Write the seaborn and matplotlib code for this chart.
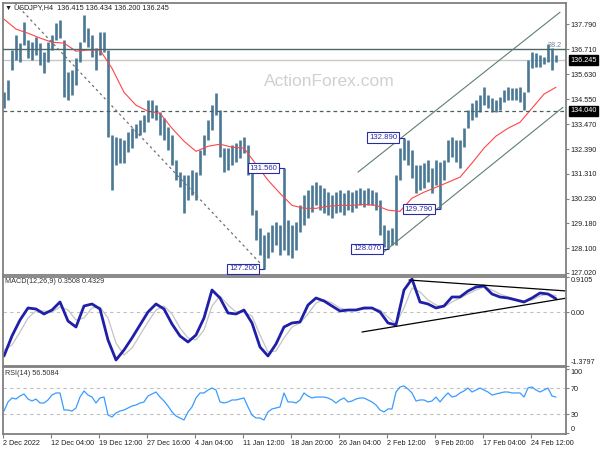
import matplotlib
matplotlib.use('Agg')
import matplotlib.pyplot as plt
import matplotlib.transforms as mtransforms
import numpy as np
import pandas as pd
import seaborn as sns

# USDJPY H4 - one entry per 4 px column of the chart (about 3 real bars each)
bar_high = [134.85, 135.37, 136.68, 137.33, 136.98, 137.89, 137.11, 137.02, 137.24, 136.98,
            136.59, 137.02, 137.33, 137.85, 137.98, 137.11, 135.72, 135.81, 136.33, 137.02,
            138.19, 137.63, 137.33, 136.76, 137.46, 137.46, 136.68, 132.99, 132.90, 132.86,
            132.77, 133.12, 133.29, 133.47, 133.64, 133.86, 134.51, 134.51, 134.29, 133.99,
            133.73, 133.34, 132.99, 131.91, 131.39, 131.26, 131.26, 131.47, 131.39, 132.34,
            132.99, 133.64, 134.29, 134.81, 134.07, 132.43, 132.43, 132.56, 132.64, 132.77,
            132.90, 132.56, 131.47, 129.74, 128.96, 128.65, 128.78, 129.09, 129.22, 129.09,
            131.56, 129.30, 129.09, 129.22, 129.95, 130.39, 130.60, 130.82, 130.95, 130.82,
            130.69, 130.52, 130.39, 130.52, 130.60, 130.47, 130.60, 130.52, 130.60, 130.69,
            130.60, 130.69, 130.60, 130.52, 130.17, 129.09, 128.87, 128.96, 131.26, 132.43,
            132.89, 132.77, 132.34, 131.69, 131.69, 131.78, 131.91, 131.56, 131.91, 131.82,
            131.91, 132.77, 132.90, 132.77, 132.77, 133.29, 134.07, 134.38, 134.51, 134.72,
            135.07, 134.72, 134.59, 134.51, 134.64, 134.94, 135.07, 135.03, 135.03, 135.07,
            134.85, 136.24, 136.59, 136.55, 136.46, 136.37, 136.94, 136.76, 136.46]
bar_low = [134.16, 134.51, 135.81, 136.24, 136.16, 136.89, 136.33, 136.24, 136.46, 136.03,
           135.68, 136.16, 136.68, 137.11, 137.20, 134.64, 134.51, 134.72, 135.16, 136.16,
           137.02, 136.81, 136.37, 135.81, 136.46, 136.59, 132.90, 130.60, 131.69, 131.78,
           131.78, 132.25, 132.43, 132.86, 132.99, 133.12, 133.55, 133.73, 133.64, 132.99,
           132.77, 132.34, 131.69, 131.04, 130.73, 129.61, 130.17, 130.39, 130.17, 131.26,
           132.12, 132.77, 133.21, 133.86, 132.04, 131.39, 131.47, 131.69, 131.82, 131.99,
           132.21, 131.26, 129.52, 128.44, 127.79, 127.20, 127.66, 127.92, 128.22, 127.79,
           128.00, 127.79, 127.66, 128.00, 128.78, 129.09, 129.39, 129.65, 129.95, 129.74,
           129.61, 129.52, 129.39, 129.61, 129.65, 129.52, 129.74, 129.65, 129.82, 129.95,
           129.87, 129.95, 129.95, 129.74, 128.65, 128.15, 128.07, 128.22, 128.22, 131.04,
           131.91, 131.69, 131.13, 130.47, 130.60, 130.69, 130.95, 130.47, 130.82, 129.79,
           131.04, 131.82, 132.04, 131.82, 131.56, 132.47, 133.29, 133.64, 133.77, 133.99,
           134.29, 134.16, 133.99, 133.99, 134.07, 134.42, 134.51, 134.51, 134.51, 134.42,
           134.07, 134.85, 135.89, 135.94, 135.94, 136.07, 136.16, 135.81, 136.16]

# moving average, every 3rd column
ma_val = [138.02, 137.59, 137.41, 137.20, 137.02, 136.98, 136.63, 136.68, 136.68, 135.89,
          134.85, 134.29, 134.03, 133.94, 133.29, 132.73, 132.29, 132.51, 132.60, 132.47,
          132.43, 131.73, 131.04, 130.47, 129.95, 129.82, 129.82, 129.91, 129.95, 129.95,
          129.99, 129.95, 129.74, 129.69, 130.26, 130.52, 130.73, 130.95, 131.17, 131.78,
          132.43, 132.95, 133.29, 133.55, 134.16, 134.77, 135.07]

# MACD(12,26,9), every 2nd column
macd_main = [-1.122, -0.607, -0.196, 0.113, 0.087, -0.041, 0.061, 0.267, -0.222, -0.376,
             0.164, 0.216, 0.087, -0.710, -1.225, -0.968, -0.659, -0.324, 0.010, 0.216,
             0.087, -0.299, -0.607, -0.762, -0.582, -0.144, 0.576, 0.370, -0.016, -0.041,
             0.061, -0.273, -0.891, -1.122, -0.813, -0.376, -0.273, -0.247, 0.190, 0.370,
             0.293, 0.164, 0.036, 0.061, 0.061, 0.113, 0.113, 0.010, -0.273, -0.324,
             0.576, 0.859, 0.267, 0.216, 0.113, 0.164, 0.396, 0.396, 0.550, 0.653,
             0.679, 0.473, 0.396, 0.370, 0.319, 0.267, 0.370, 0.499, 0.473, 0.351]
macd_signal = [-0.968, -0.839, -0.505, -0.144, 0.036, 0.036, 0.010, 0.139, 0.061, -0.196,
               -0.144, 0.113, 0.139, -0.144, -0.788, -1.096, -0.916, -0.582, -0.247, 0.061,
               0.164, -0.041, -0.402, -0.659, -0.710, -0.453, 0.164, 0.422, 0.190, 0.010,
               0.010, -0.093, -0.582, -1.019, -0.993, -0.659, -0.376, -0.273, -0.041, 0.242,
               0.319, 0.242, 0.113, 0.061, 0.061, 0.087, 0.113, 0.061, -0.119, -0.299,
               0.113, 0.628, 0.525, 0.319, 0.190, 0.139, 0.267, 0.370, 0.473, 0.576,
               0.653, 0.576, 0.473, 0.396, 0.344, 0.293, 0.319, 0.422, 0.473, 0.433]

# RSI(14), one per column
rsi_val = [34.7, 48.8, 55.0, 53.4, 58.1, 61.2, 53.4, 50.3, 53.4, 47.2,
           47.2, 51.9, 59.6, 62.8, 62.8, 36.3, 36.3, 34.7, 39.4, 56.5,
           65.9, 59.6, 56.5, 47.2, 55.0, 56.5, 28.5, 25.4, 31.6, 34.7,
           36.3, 39.4, 42.5, 44.1, 47.2, 48.8, 58.1, 61.2, 64.3, 56.5,
           50.3, 42.5, 33.2, 27.0, 23.9, 20.7, 33.2, 41.0, 55.0, 62.8,
           62.8, 67.4, 70.5, 67.4, 48.8, 47.2, 48.8, 51.9, 51.9, 53.4,
           55.0, 41.0, 28.5, 23.9, 23.9, 20.7, 33.2, 37.9, 39.4, 41.0,
           62.8, 48.8, 48.8, 47.2, 51.9, 62.8, 58.1, 55.0, 56.5, 56.5,
           56.5, 55.0, 51.9, 47.2, 51.9, 55.0, 48.8, 50.3, 53.4, 55.0,
           55.0, 51.9, 48.8, 44.1, 36.3, 33.2, 37.9, 37.9, 64.3, 72.1,
           73.7, 69.0, 62.8, 50.3, 51.9, 51.9, 48.8, 50.3, 56.5, 48.8,
           56.5, 62.8, 56.5, 58.1, 62.8, 65.9, 70.5, 64.3, 67.4, 70.5,
           67.4, 64.3, 59.6, 61.2, 62.8, 64.3, 64.3, 62.8, 62.8, 62.8,
           56.5, 70.5, 72.1, 67.4, 64.3, 67.4, 70.5, 58.0, 56.5]

date_labels = ['2 Dec 2022', '12 Dec 04:00', '19 Dec 12:00', '27 Dec 16:00', '4 Jan 04:00',
               '11 Jan 12:00', '18 Jan 20:00', '26 Jan 04:00', '2 Feb 12:00', '9 Feb 20:00',
               '17 Feb 04:00', '24 Feb 12:00']
price_ticks = [137.79, 136.71, 135.63, 134.55, 133.47, 132.39, 131.31, 130.23, 129.18, 128.10, 127.02]
last_price = 136.245
support_level = 134.04
fib_level = 136.71
swing_bar = [65, 70, 96, 100, 109]
swing_price = [127.20, 131.56, 128.07, 132.89, 129.79]
down_line = ([2.75, 64.0], [138.71, 127.45])
chan_upper = ([88.5, 139.0], [131.39, 138.32])
chan_lower = ([94.5, 139.75], [127.87, 134.20])
macd_upper = ([101.25, 140.75], [0.833, 0.550])
macd_lower = ([89.5, 140.75], [-0.505, 0.370])
macd_ticks = [0.9105, 0.0, -1.3797]
rsi_ticks = [100, 70, 30, 0]

bars = pd.DataFrame({'bar': np.arange(len(bar_high)), 'high': bar_high, 'low': bar_low, 'rsi': rsi_val})
ma_idx = np.arange(0, len(bar_high), 3)
macd_idx = np.arange(0, len(bar_high), 2)

sns.set_style('white')
plt.rcParams['font.family'] = ['Liberation Sans', 'DejaVu Sans']

BAR = '#4a7896'
NAVY = '#2b2ba6'
GRID = '#808080'
FS = 5.2

fig = plt.figure(figsize=(6, 4.5), dpi=100)
W, H = 600, 450


def panel(top, bottom):
    a = fig.add_axes([3 / W, 1 - bottom / H, 563 / W, (bottom - top) / H])
    a.set_xlim(-0.25, 140.5)
    for s in a.spines.values():
        s.set_color(GRID)
        s.set_linewidth(1.3)
    a.tick_params(axis='y', left=False, right=True, labelleft=False, labelright=True,
                  length=2, width=0.8, color=GRID, pad=1.5, labelsize=FS, labelcolor='#202020')
    return a


ax = panel(3, 275)
ax_m = panel(277, 366)
ax_r = panel(367, 434)

# ---- price panel
ax.text(0.579, 0.71, 'ActionForex.com', transform=ax.transAxes, ha='center', va='center',
        fontsize=12.5, color='#d0d0d0', zorder=0)
ax.vlines(bars['bar'], bars['low'], bars['high'], color=BAR, lw=1.9, zorder=2)
sns.lineplot(x=ma_idx, y=ma_val, ax=ax, color='#ff4545', lw=0.8, zorder=3)
ax.axhline(fib_level, color='#4d6666', lw=1.0, zorder=4)
ax.axhline(last_price, color='#c8c8c8', lw=1.0, zorder=1)
ax.axhline(support_level, color='#4d6060', lw=0.9, ls=(0, (3, 2.5)), zorder=4)
ax.plot(*down_line, color='#707070', lw=0.9, ls=(0, (2, 2.5)), zorder=4)
ax.plot(*chan_upper, color='#5f7f70', lw=0.8, zorder=4)
ax.plot(*chan_lower, color='#5f7f70', lw=0.8, zorder=4)
ax.text(136.0, fib_level, '38.2', ha='left', va='bottom', fontsize=FS, color='#6f8296')

for b, p in zip(swing_bar, swing_price):
    ax.plot([b - 1.75, b], [p, p], color=NAVY, lw=0.8, zorder=5)
    ax.text(b - 1.75, p, f'{p:.3f}', ha='right', va='center', fontsize=5.6, color=NAVY, zorder=6,
            bbox=dict(boxstyle='square,pad=0.2', fc='white', ec=NAVY, lw=0.8))

ax.set_ylim(126.93, 138.72)
ax.set_yticks(price_ticks, [f'{v:.3f}' for v in price_ticks])
ax.set_xticks([])
ax.set_xlabel('')
ax.set_ylabel('')
trans = mtransforms.blended_transform_factory(ax.transAxes, ax.transData)
for lv in [last_price, support_level]:
    ax.text(1.0072, lv, f'{lv:.3f}', transform=trans, ha='left', va='center', fontsize=FS,
            color='white', bbox=dict(boxstyle='square,pad=0.2', fc='black', ec='black'))
ax.text(0.0036, 0.982, '\u25bc USDJPY,H4  136.415 136.434 136.200 136.245', transform=ax.transAxes,
        ha='left', va='center', fontsize=FS, color='#202020')

# ---- MACD panel
sns.lineplot(x=macd_idx, y=macd_signal, ax=ax_m, color='#c4c4c4', lw=0.9)
sns.lineplot(x=macd_idx, y=macd_main, ax=ax_m, color='#1f1fa8', lw=2.0)
ax_m.axhline(0, color='#c0c0c0', lw=0.8, ls=(0, (3, 3)), zorder=0)
ax_m.plot(*macd_upper, color='black', lw=0.9)
ax_m.plot(*macd_lower, color='black', lw=0.9)
ax_m.set_ylim(-1.3797, 0.9105)
ax_m.set_yticks(macd_ticks, ['0.9105', '0.00', '-1.3797'])
labs = ax_m.get_yticklabels()
labs[0].set_va('top')
labs[-1].set_va('bottom')
ax_m.set_xticks([])
ax_m.set_xlabel('')
ax_m.set_ylabel('')
ax_m.text(0.0036, 0.944, 'MACD(12,26,9) 0.3508 0.4329', transform=ax_m.transAxes,
          ha='left', va='center', fontsize=FS, color='#303030')

# ---- RSI panel
sns.lineplot(data=bars, x='bar', y='rsi', ax=ax_r, color='#3a9cff', lw=0.9)
ax_r.axhline(70, color='#c0c0c0', lw=0.8, ls=(0, (3, 3)), zorder=0)
ax_r.axhline(30, color='#c0c0c0', lw=0.8, ls=(0, (3, 3)), zorder=0)
ax_r.set_ylim(-1.05, 103.2)
ax_r.set_yticks(rsi_ticks, [str(v) for v in rsi_ticks])
labs = ax_r.get_yticklabels()
labs[0].set_va('top')
labs[-1].set_va('bottom')
ax_r.set_xticks(np.arange(len(date_labels)) * 12 - 0.25, date_labels)
for lbl in ax_r.get_xticklabels():
    lbl.set_ha('left')
ax_r.tick_params(axis='x', bottom=True, length=3, width=0.8, color=GRID, pad=1.5,
                 labelsize=FS, labelcolor='#202020')
ax_r.set_xlabel('')
ax_r.set_ylabel('')
ax_r.text(0.0036, 0.896, 'RSI(14) 56.5084', transform=ax_r.transAxes,
          ha='left', va='center', fontsize=FS, color='#303030')

fig.savefig('out.png', dpi=100)
